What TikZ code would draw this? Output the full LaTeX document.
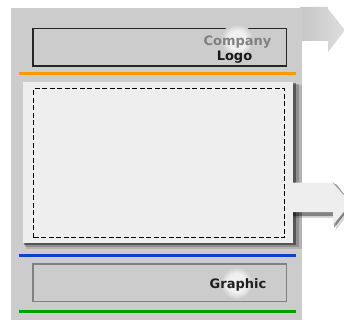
\documentclass[tikz,border=0pt]{standalone}
\usepackage{fontspec}
\setmainfont{DejaVu Sans}
\definecolor{panel}{HTML}{CCCCCC}
\definecolor{sheet}{HTML}{EEEEEE}
\definecolor{glowc}{HTML}{F0F0F0}
\definecolor{orangeline}{HTML}{FF9900}
\definecolor{blueline}{HTML}{1040CC}
\definecolor{greenline}{HTML}{00A000}
\definecolor{arrowl}{HTML}{C6C6C6}
\definecolor{arrowr}{HTML}{DEDEDE}
\pgfdeclareradialshading{glow}{\pgfpointorigin}{color(0bp)=(glowc); color(15bp)=(glowc); color(25bp)=(panel); color(50bp)=(panel)}
\tikzset{
  rule/.style={line width=3pt},
  framebox/.style={draw, line width=1.5pt, fill=panel, anchor=north west, inner sep=0pt},
  label/.style={font=\bfseries\fontsize{13}{15}\selectfont, anchor=base, inner sep=0pt},
  glowdisc/.style={shading=glow},
}
\begin{document}
\begin{tikzpicture}[x=1pt,y=-1pt]
\useasboundingbox (0,0) rectangle (344,320);
\fill[white] (0,0) rectangle (344,320);
% top arrow
\shade[left color=arrowl, right color=arrowr]
  (300,7) -- (328,7) -- (328,9) -- (345,30) -- (328,52) -- (328,41) -- (300,41) -- cycle;
% grey panel
\fill[panel] (11,8) rectangle (302,320);
% logo box
\node[framebox, draw=black!85, minimum width=253.5pt, minimum height=37.5pt] (logo) at (32,28) {};
\shade[glowdisc] (237,40) circle (16pt);
\node[label, text=black!50] (company) at (237.5,46) {Company};
\node[label, text=black!90] (logotext) at (234.5,60.5) {Logo};
% orange rule
\draw[rule, orangeline] (19,73.5) -- (296,73.5);
% shadow of main sheet
\fill[black, opacity=.12] (26,85) rectangle (302,249);
\fill[black, opacity=.2] (25,84) rectangle (299,247);
\fill[black, opacity=.4] (24,83) rectangle (296,245);
% shadow of second arrow
\fill[black, opacity=.15] (293,186) -- (338,186) -- (354,207) -- (336,230) -- (336,218) -- (293,218) -- cycle;
\fill[black, opacity=.4] (293,184) -- (336,184) -- (352,205) -- (334,228) -- (334,216) -- (293,216) -- cycle;
% main sheet
\fill[sheet] (23,82) rectangle (293,243);
% second arrow
\fill[sheet] (290,182.5) -- (333,182.5) -- (351,203) -- (333,225) -- (333,212) -- (290,212) -- cycle;
\draw[black!35, line width=0.6pt] (333,182.5) -- (351,203);
% dashed frame
\node[draw, dash pattern=on 5pt off 2.5pt, line width=1.3pt, anchor=north west, minimum width=251pt, minimum height=149pt, inner sep=0pt] (content) at (33,88) {};
% blue rule
\draw[rule, blueline] (19,255) -- (296,255);
% graphic box
\node[framebox, draw=black!50, minimum width=253.5pt, minimum height=37.5pt] (graphic) at (32,263) {};
\shade[glowdisc] (236.5,283) circle (16pt);
\node[label, text=black!88] (graphictext) at (238,288) {Graphic};
% green rule
\draw[rule, greenline] (19,311) -- (296,311);
\end{tikzpicture}
\end{document}
